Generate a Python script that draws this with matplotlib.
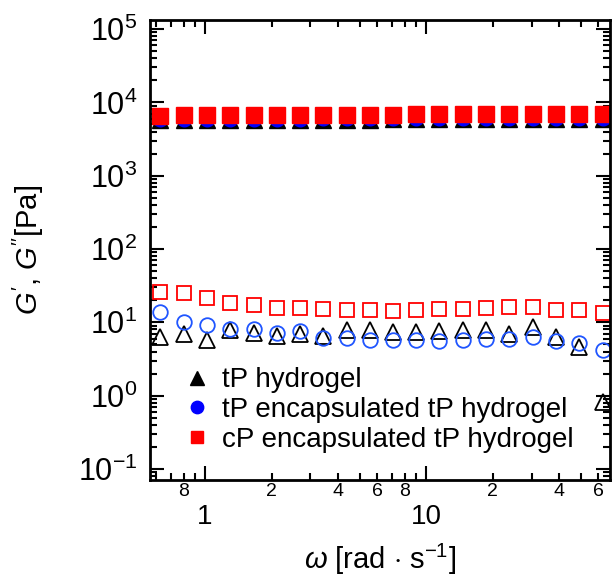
import math
import matplotlib
matplotlib.use("Agg")
import matplotlib.pyplot as plt
import matplotlib.ticker as mticker

plt.rcParams['font.family'] = ['Liberation Sans', 'DejaVu Sans']
plt.rcParams['mathtext.fontset'] = 'custom'
plt.rcParams['mathtext.rm'] = 'Liberation Sans'
plt.rcParams['mathtext.it'] = 'Liberation Sans:italic'
plt.rcParams['mathtext.bf'] = 'Liberation Sans:bold'

# angular frequency [rad/s]
omega = [0.628, 0.800, 1.02, 1.30, 1.66, 2.11, 2.69, 3.43, 4.37, 5.57,
         7.09, 9.04, 11.5, 14.7, 18.7, 23.8, 30.4, 38.7, 49.3, 62.8]

# storage modulus G' (filled)
gp_tp = [5800, 5800, 5800, 5800, 5800, 5800, 5800, 5800, 5800, 5800,
         5850, 5850, 5850, 5850, 5900, 5900, 5900, 5900, 5900, 5900]
gp_tp_enc = [6000, 6000, 6000, 6000, 6000, 6000, 6000, 6050, 6050, 6050,
             6050, 6100, 6100, 6100, 6100, 6150, 6150, 6150, 6150, 6150]
gp_cp_enc = [6600, 6650, 6650, 6650, 6700, 6700, 6700, 6750, 6750, 6800,
             6800, 6850, 6850, 6850, 6900, 6950, 6950, 6950, 7000, 7000]

# loss modulus G'' (open)
gpp_tp = [6.3, 7.0, 5.8, 7.9, 7.1, 6.5, 6.9, 6.5, 7.8, 7.8,
          7.4, 7.4, 7.6, 7.8, 7.8, 7.0, 8.6, 6.3, 4.6, 0.82]
gpp_tp_enc = [13.8, 10.1, 9.1, 8.2, 8.0, 7.2, 7.6, 6.1, 6.1, 5.7,
              5.7, 5.7, 5.6, 5.7, 5.9, 6.0, 6.3, 5.6, 5.2, 4.2]
gpp_cp_enc = [25.9, 24.8, 21.6, 18.1, 17.2, 15.5, 15.5, 15.0, 14.7, 14.7,
              14.4, 14.7, 15.2, 15.2, 15.5, 16.0, 16.0, 14.7, 14.7, 13.6]

labels = ['tP hydrogel', 'tP encapsulated tP hydrogel', 'cP encapsulated tP hydrogel']
y_decades = [1e-1, 1e0, 1e1, 1e2, 1e3, 1e4, 1e5]

fig = plt.figure(figsize=(6.12, 5.79), dpi=100)
ax = fig.add_axes([0.245, 0.171, 0.752, 0.7945])

# open symbols (G'')
ax.plot(omega, gpp_tp, linestyle='none', marker='^', ms=11, mfc='none',
        mec='black', mew=1.3)
ax.plot(omega, gpp_tp_enc, linestyle='none', marker='o', ms=10.5, mfc='none',
        mec='#1f55ff', mew=1.3)
ax.plot(omega, gpp_cp_enc, linestyle='none', marker='s', ms=10, mfc='none',
        mec='#ff0000', mew=1.3)

# filled symbols (G')
ax.plot(omega, gp_tp, linestyle='none', marker='^', ms=11.5, color='black',
        mec='black', label=labels[0])
ax.plot(omega, gp_tp_enc, linestyle='none', marker='o', ms=10.5, color='#0000ff',
        mec='#0000ff', label=labels[1])
ax.plot(omega, gp_cp_enc, linestyle='none', marker='s', ms=11, color='#ff0000',
        mec='#ff0000', label=labels[2])

ax.set_xscale('log')
ax.set_yscale('log')
ax.set_xlim(0.564, 68)
ax.set_ylim(0.0708, 1.33e5)

ax.xaxis.set_major_locator(mticker.FixedLocator([1, 10]))
ax.xaxis.set_major_formatter(mticker.FixedFormatter(['1', '10']))
ax.xaxis.set_minor_locator(mticker.LogLocator(base=10, subs=range(2, 10), numticks=20))


def minor_fmt(x, pos):
    d = int(round(x / 10 ** math.floor(math.log10(x) + 1e-9)))
    if x < 1 and d != 8:
        return ''
    if d in (2, 4, 6, 8):
        return str(d)
    return ''


ax.xaxis.set_minor_formatter(mticker.FuncFormatter(minor_fmt))

ax.yaxis.set_major_locator(mticker.FixedLocator(y_decades))
ax.yaxis.set_major_formatter(mticker.LogFormatterMathtext())
ax.yaxis.set_minor_locator(mticker.LogLocator(base=10, subs=range(2, 10), numticks=20))
ax.yaxis.set_minor_formatter(mticker.NullFormatter())

ax.tick_params(which='both', direction='in', top=True, right=True)
ax.tick_params(which='major', length=10, width=1.5)
ax.tick_params(which='minor', length=5, width=1.5)
ax.tick_params(axis='y', which='major', labelsize=22, pad=9)
ax.tick_params(axis='x', which='major', labelsize=20, pad=17)
ax.tick_params(axis='x', which='minor', labelsize=14, pad=2)

for s in ax.spines.values():
    s.set_linewidth(2)

ax.set_xlabel(r'$\omega$ [rad $\cdot$ s$^{-1}$]', fontsize=21, labelpad=9)
ax.set_ylabel(r"$G'$, $G''$[Pa]", fontsize=21, labelpad=23)

ax.legend(loc='upper left', bbox_to_anchor=(0.072, 0.245), frameon=False,
          fontsize=20, borderpad=0, borderaxespad=0, handlelength=1.0,
          handletextpad=0.4, labelspacing=0.14, markerscale=0.85)

fig.savefig('out.png', dpi=100)
